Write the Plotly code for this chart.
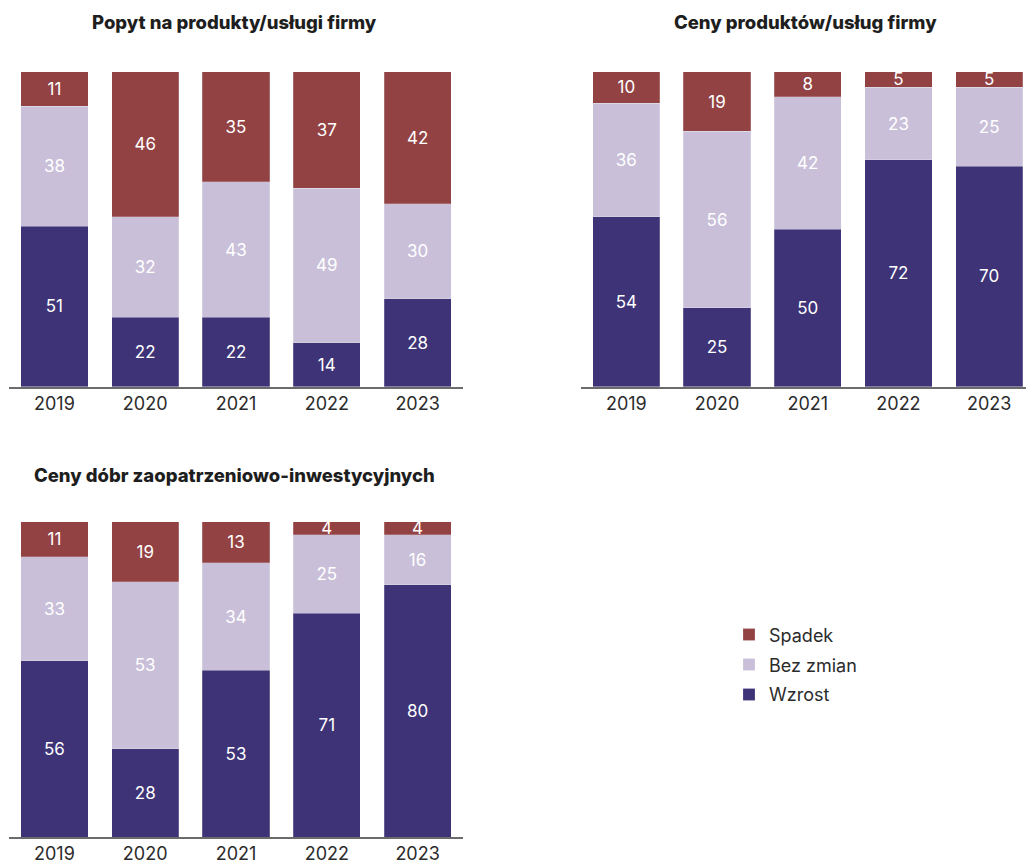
import plotly.graph_objects as go

# Survey years shown on every panel
years = ["2019", "2020", "2021", "2022", "2023"]

# Share of answers (%) per panel: rise / no change / fall
popyt_wzrost = [51, 22, 22, 14, 28]
popyt_bez = [38, 32, 43, 49, 30]
popyt_spadek = [11, 46, 35, 37, 42]

ceny_prod_wzrost = [54, 25, 50, 72, 70]
ceny_prod_bez = [36, 56, 42, 23, 25]
ceny_prod_spadek = [10, 19, 8, 5, 5]

ceny_dobr_wzrost = [56, 28, 53, 71, 80]
ceny_dobr_bez = [33, 53, 34, 25, 16]
ceny_dobr_spadek = [11, 19, 13, 4, 4]

series_names = ["Wzrost", "Bez zmian", "Spadek"]
series_colors = ["#3d3376", "#c9bfd9", "#934244"]

panel_titles = [
    "Popyt na produkty/usługi firmy",
    "Ceny produktów/usług firmy",
    "Ceny dóbr zaopatrzeniowo-inwestycyjnych",
]

panels = [
    (popyt_wzrost, popyt_bez, popyt_spadek),
    (ceny_prod_wzrost, ceny_prod_bez, ceny_prod_spadek),
    (ceny_dobr_wzrost, ceny_dobr_bez, ceny_dobr_spadek),
]

W, H = 1026, 864
FONT = "Inter"
TEXT_COLOR = "#2b2b2b"

fig = go.Figure()

for p, values in enumerate(panels):
    ax = "" if p == 0 else str(p + 1)
    for s, (name, color, vals) in enumerate(zip(series_names, series_colors, values)):
        fig.add_trace(go.Bar(
            x=years,
            y=vals,
            name=name,
            legendgroup=name,
            marker=dict(color=color, line=dict(color="rgba(255,255,255,0.35)", width=0.6)),
            text=[str(v) for v in vals],
            textposition="inside",
            insidetextanchor="middle",
            textangle=0,
            textfont=dict(family=FONT, size=17, color="white"),
            width=0.74,
            xaxis="x" + ax,
            yaxis="y" + ax,
            showlegend=(p == 0),
            legendrank=3 - s,
            hoverinfo="skip",
        ))

# Panel geometry in pixels
def px_x(v):
    return v / W


def px_y(v):
    return 1 - v / H


pitch = 90.7
right_left = 581
right_max = (W - right_left) / pitch - 0.5

xaxis_common = dict(
    type="category",
    showgrid=False,
    zeroline=False,
    showline=True,
    linecolor="#6b6b6b",
    linewidth=1.5,
    ticks="",
    tickfont=dict(family=FONT, size=18, color=TEXT_COLOR),
    fixedrange=True,
)
yaxis_common = dict(
    range=[0, 100],
    visible=False,
    showgrid=False,
    zeroline=False,
    fixedrange=True,
)

fig.update_layout(
    width=W,
    height=H,
    margin=dict(l=0, r=0, t=0, b=0),
    paper_bgcolor="white",
    plot_bgcolor="white",
    barmode="stack",
    uniformtext=dict(minsize=17, mode="show"),
    xaxis=dict(xaxis_common, domain=[px_x(9), px_x(463)], range=[-0.5, 4.5], anchor="y"),
    yaxis=dict(yaxis_common, domain=[px_y(389), px_y(72)], anchor="x"),
    xaxis2=dict(xaxis_common, domain=[px_x(right_left), 1], range=[-0.5, right_max], anchor="y2"),
    yaxis2=dict(yaxis_common, domain=[px_y(389), px_y(72)], anchor="x2"),
    xaxis3=dict(xaxis_common, domain=[px_x(9), px_x(463)], range=[-0.5, 4.5], anchor="y3"),
    yaxis3=dict(yaxis_common, domain=[px_y(842), px_y(525)], anchor="x3"),
    legend=dict(
        x=px_x(729),
        y=px_y(620),
        xanchor="left",
        yanchor="top",
        traceorder="grouped",
        font=dict(family=FONT, size=18, color=TEXT_COLOR),
        tracegroupgap=3.5,
        itemwidth=30,
        bgcolor="rgba(0,0,0,0)",
    ),
    font=dict(family=FONT, color=TEXT_COLOR),
)

# Panel headings
title_pos = [(234.5, 22), (805, 22), (234.5, 478)]
for title, (cx, cy) in zip(panel_titles, title_pos):
    fig.add_annotation(
        text=title,
        x=px_x(cx),
        y=px_y(cy),
        xref="paper",
        yref="paper",
        xanchor="center",
        yanchor="middle",
        showarrow=False,
        font=dict(family=FONT, size=18.5, color="#1e1e1e", weight=800),
    )

fig.write_html("out.html")
